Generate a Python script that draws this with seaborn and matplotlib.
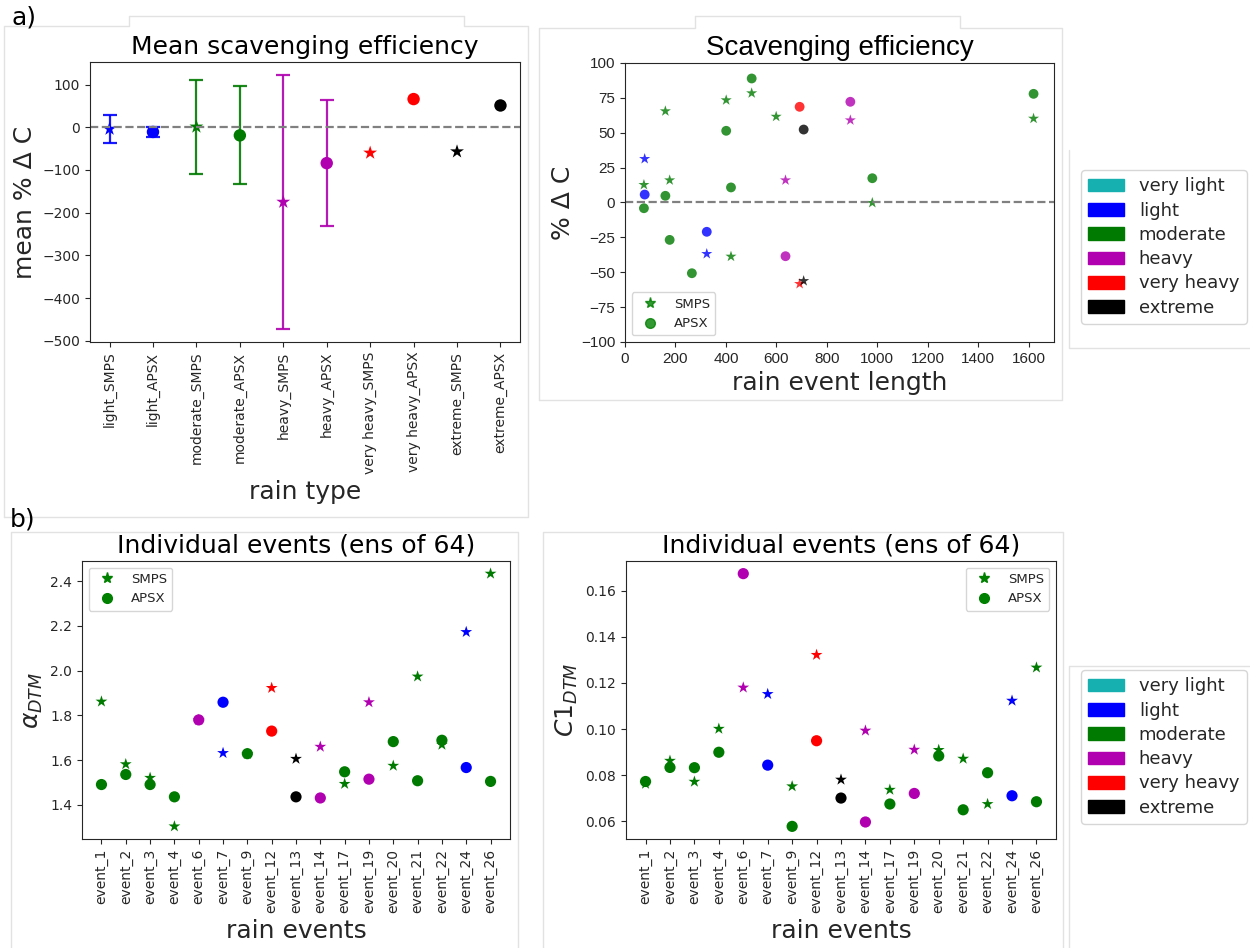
import numpy as np
import pandas as pd
import seaborn as sns
import matplotlib.pyplot as plt
from matplotlib.lines import Line2D
from matplotlib.patches import Patch

sns.set_style("ticks")
plt.rcParams['font.family'] = ['DejaVu Sans']
plt.rcParams['axes.titlecolor'] = 'black'

nan = np.nan

# rain type colours
rain_types = ['very light', 'light', 'moderate', 'heavy', 'very heavy', 'extreme']
rain_colors = ['#17b0b0', '#0000ff', '#007a00', '#b000b0', '#ff0000', '#000000']
pal = dict(zip(rain_types, rain_colors))

# a) mean scavenging efficiency per rain type / instrument
cats = ['light_SMPS', 'light_APSX', 'moderate_SMPS', 'moderate_APSX', 'heavy_SMPS',
        'heavy_APSX', 'very heavy_SMPS', 'very heavy_APSX', 'extreme_SMPS', 'extreme_APSX']
cat_rain = ['light', 'light', 'moderate', 'moderate', 'heavy', 'heavy',
            'very heavy', 'very heavy', 'extreme', 'extreme']
cat_inst = ['SMPS', 'APSX'] * 5
mean_dc = [-4, -11, 1, -19, -175, -84, -60, 66, -57, 51]
std_dc = [33, 11, 110, 115, 298, 147, nan, nan, nan, nan]

# a) scavenging efficiency vs rain event length
ev_len = [75, 160, 177, 265, 401, 420, 502, 599, 980, 1619, 78, 324, 636, 893, 692, 708]
ev_len_rain = ['moderate'] * 10 + ['light', 'light', 'heavy', 'heavy', 'very heavy', 'extreme']
dc_smps = [12.7, 65.5, 16.0, nan, 73.4, -38.7, 78.4, 61.6, -0.2, 60.2, 31.3, -36.8, 16.0, 59.0, -58.3, -56.2]
dc_apsx = [-4.1, 4.8, -26.8, -50.7, 51.4, 10.8, 88.9, nan, 17.4, 77.9, 5.7, -21.0, -38.5, 72.2, 68.6, 52.3]

# b) individual events
events = ['event_1', 'event_2', 'event_3', 'event_4', 'event_6', 'event_7', 'event_9', 'event_12',
          'event_13', 'event_14', 'event_17', 'event_19', 'event_20', 'event_21', 'event_22',
          'event_24', 'event_26']
ev_rain = ['moderate', 'moderate', 'moderate', 'moderate', 'heavy', 'light', 'moderate', 'very heavy',
           'extreme', 'heavy', 'moderate', 'heavy', 'moderate', 'moderate', 'moderate', 'light', 'moderate']
alpha_smps = [1.862, 1.582, 1.521, 1.304, 1.780, 1.632, 1.628, 1.923, 1.606, 1.660, 1.494, 1.859,
              1.575, 1.974, 1.669, 2.173, 2.434]
alpha_apsx = [1.491, 1.536, 1.491, 1.436, 1.780, 1.859, 1.629, 1.730, 1.436, 1.431, 1.548, 1.515,
              1.683, 1.508, 1.689, 1.567, 1.505]
c1_smps = [0.0762, 0.0862, 0.0771, 0.1001, 0.1180, 0.1152, 0.0751, 0.1322, 0.0780, 0.0993, 0.0736,
           0.0910, 0.0909, 0.0871, 0.0674, 0.1123, 0.1267]
c1_apsx = [0.0772, 0.0833, 0.0832, 0.0899, 0.1675, 0.0843, 0.0577, 0.0949, 0.0700, 0.0596, 0.0674,
           0.0720, 0.0883, 0.0649, 0.0810, 0.0710, 0.0684]

W, H = 1250, 948
fig = plt.figure(figsize=(12.5, 9.48), dpi=100)


def box(l, t, r, b):
    return [l / W, 1 - b / H, (r - l) / W, (b - t) / H]


def fline(xs, ys):
    fig.add_artist(Line2D(np.array(xs) / W, 1 - np.array(ys) / H, transform=fig.transFigure,
                          color='#e2e2e2', lw=1))


# faint frames of the pasted sub-figures
fline([4, 4, 129, 129, 464, 464, 528, 528, 4], [517, 26, 26, 16, 16, 26, 26, 517, 517])
fline([539, 539, 695, 695, 960, 960, 1062, 1062, 539], [400, 28, 28, 16, 16, 28, 28, 400, 400])
fline([11, 11, 518, 518], [948, 532, 532, 948])
fline([543, 543, 1063, 1063], [948, 532, 532, 948])
fline([1069, 1069, 1250], [150, 348, 348])
fline([1069, 1069, 1250], [948, 666, 666])

inst_handles_kw = dict(color='green', ls='')


def inst_legend(ax, loc, alpha=1.0):
    h = [Line2D([], [], marker='*', markersize=8, alpha=alpha, label='SMPS', **inst_handles_kw),
         Line2D([], [], marker='o', markersize=7, alpha=alpha, label='APSX', **inst_handles_kw)]
    ax.legend(handles=h, loc=loc, fontsize=9.5)


# ---- panel a) left
ax1 = fig.add_axes(box(90, 62, 520, 342))
df1 = pd.DataFrame({'pos': np.arange(len(cats)), 'mean': mean_dc, 'std': std_dc,
                    'rain': cat_rain, 'inst': cat_inst})
for i, r in df1.iterrows():
    if not np.isnan(r['std']):
        ax1.errorbar(r['pos'], r['mean'], yerr=r['std'], fmt='none', ecolor=pal[r['rain']],
                     elinewidth=1.6, capsize=5, capthick=1.6, alpha=0.9)
sns.scatterplot(data=df1[df1.inst == 'SMPS'], x='pos', y='mean', hue='rain', palette=pal,
                marker='*', s=110, linewidth=0, legend=False, ax=ax1)
sns.scatterplot(data=df1[df1.inst == 'APSX'], x='pos', y='mean', hue='rain', palette=pal,
                marker='o', s=80, linewidth=0, legend=False, ax=ax1)
ax1.set_xticks(range(len(cats)))
ax1.set_xticklabels(cats, rotation=90)
ax1.set_xlim(-0.45, len(cats) - 0.55)
ax1.axhline(0, color='gray', ls='--', lw=1.6)
ax1.set_title('Mean scavenging efficiency', fontsize=18)
ax1.set_ylabel('mean % Δ C', fontsize=18)
ax1.set_xlabel('rain type', fontsize=18)

# ---- panel a) right
ax2 = fig.add_axes(box(625, 63, 1054, 342))
df2 = pd.DataFrame({'length': ev_len, 'rain': ev_len_rain, 'smps': dc_smps, 'apsx': dc_apsx})
sns.scatterplot(data=df2, x='length', y='smps', hue='rain', palette=pal, marker='*', s=70,
                linewidth=0, alpha=0.8, legend=False, ax=ax2)
sns.scatterplot(data=df2, x='length', y='apsx', hue='rain', palette=pal, marker='o', s=50,
                linewidth=0, alpha=0.8, legend=False, ax=ax2)
ax2.axhline(0, color='gray', ls='--', lw=1.6)
ax2.set_xlim(0, 1700)
ax2.set_ylim(-100, 100)
ax2.set_yticks(np.arange(-100, 101, 25))
ax2.set_title('Scavenging efficiency', fontsize=20, family=['Liberation Sans', 'DejaVu Sans'])
ax2.set_ylabel('% Δ C', fontsize=18)
ax2.set_xlabel('rain event length', fontsize=18)
for lab in ax2.get_xticklabels() + ax2.get_yticklabels():
    lab.set_fontfamily(['Liberation Sans', 'DejaVu Sans'])
    lab.set_fontsize(11)
inst_legend(ax2, 'lower left', alpha=0.8)


# ---- panel b)
def event_panel(ax, smps, apsx, ylabel, loc):
    d = pd.DataFrame({'pos': np.arange(len(events)), 'rain': ev_rain, 'smps': smps, 'apsx': apsx})
    sns.scatterplot(data=d, x='pos', y='smps', hue='rain', palette=pal, marker='*', s=80,
                    linewidth=0, legend=False, ax=ax)
    sns.scatterplot(data=d, x='pos', y='apsx', hue='rain', palette=pal, marker='o', s=65,
                    linewidth=0, legend=False, ax=ax)
    ax.set_xticks(range(len(events)))
    ax.set_xticklabels(events, rotation=90)
    ax.set_xlim(-0.8, len(events) - 0.2)
    ax.set_title('Individual events (ens of 64)', fontsize=18)
    ax.set_ylabel(ylabel, fontsize=18)
    ax.set_xlabel('rain events', fontsize=18)
    inst_legend(ax, loc)


ax3 = fig.add_axes(box(82, 561, 510, 839))
event_panel(ax3, alpha_smps, alpha_apsx, r'$\alpha_{DTM}$', 'upper left')
ax4 = fig.add_axes(box(626, 561, 1056, 839))
event_panel(ax4, c1_smps, c1_apsx, r'$C1_{DTM}$', 'upper right')

# rain type legends
rt_handles = [Patch(facecolor=c, edgecolor=c, label=t) for t, c in zip(rain_types, rain_colors)]
for top in (170, 670):
    fig.legend(handles=rt_handles, loc='upper left', bbox_to_anchor=(1081 / W, 1 - top / H),
               fontsize=13, labelspacing=0.35, borderaxespad=0)

fig.text(12 / W, 1 - 6 / H, 'a)', fontsize=18, va='top', ha='left', color='black')
fig.text(10 / W, 1 - 508 / H, 'b)', fontsize=18, va='top', ha='left', color='black')

fig.savefig('out.png', dpi=100)
